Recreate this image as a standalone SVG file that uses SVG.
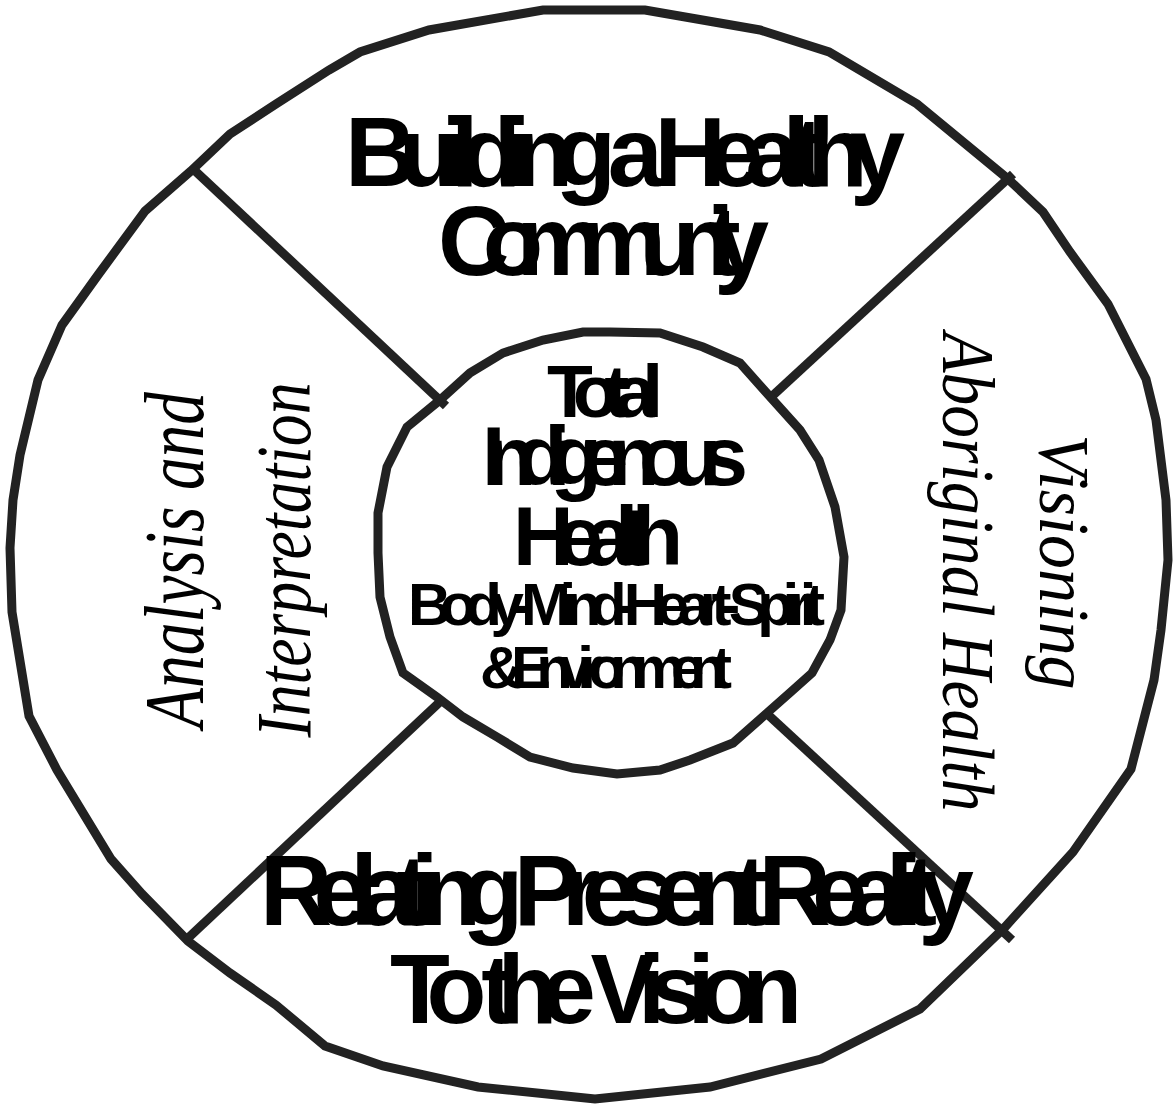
<svg xmlns="http://www.w3.org/2000/svg" width="1176" height="1108" viewBox="0 0 1176 1108">
  <style>
    .ring { fill: none; stroke: #222; stroke-width: 9; stroke-linejoin: miter; }
    .spoke { stroke: #222; stroke-width: 9; stroke-linecap: butt; }
    .big { font-family: "Liberation Sans", Arial, sans-serif; font-weight: bold; fill: #000; }
    .side { font-family: "Liberation Serif", "Times New Roman", serif; font-style: italic; fill: #000; }
  </style>
  <rect x="0" y="0" width="1176" height="1108" fill="#fff"/>

  <g id="outer-ring">
    <polygon class="ring" points="543,10 645,10 760,30 829,52 917,104 1008,179 1043,212 1070,252 1108,304 1146,379 1156,420 1166,500 1168,560 1161,630 1154,680 1131,769 1073,852 1005,927 920,1009 821,1059 710,1087 595,1099 478,1087 383,1066 325,1046 276,1005 230,973 188,941 142,894 111,859 57,770 29,716 12,612 10,548 13,500 20,455 38,380 62,325 98,275 145,211 191,171 230,134 276,104 329,70 360,52 429,30"/>
  </g>

  <g id="connectors">
    <line class="spoke" x1="192" y1="168" x2="446" y2="406"/>
    <line class="spoke" x1="1013" y1="174" x2="769" y2="399"/>
    <line class="spoke" x1="443" y1="699" x2="186" y2="940"/>
    <line class="spoke" x1="764" y1="711" x2="1012" y2="940"/>
  </g>

  <g id="inner-circle">
    <polygon class="ring" fill="#fff" points="610,332 660,333 703,347 740,363 773,400 800,430 819,460 835,507 844,557 841,610 830,640 812,673 793,690 767,713 733,743 690,760 660,770 617,774 573,768 530,757 497,737 463,717 437,697 403,673 390,637 380,597 378,553 378,513 387,467 407,427 440,400 470,373 503,353 543,340 583,332"/>
    <text class="big" x="547" y="417" font-size="75" textLength="116" lengthAdjust="spacing">Total</text>
    <text class="big" x="482" y="485" font-size="84" textLength="266" lengthAdjust="spacing">Indigenous</text>
    <text class="big" x="513" y="565" font-size="84" textLength="170" lengthAdjust="spacing">Health</text>
    <text class="big" x="408" y="625" font-size="60" textLength="417" lengthAdjust="spacing">Body-Mind-Heart-Spirit</text>
    <text class="big" x="480" y="688" font-size="60" textLength="252" lengthAdjust="spacing">&amp; Environment</text>
  </g>

  <g id="top-section">
    <text class="big" x="345" y="186" font-size="99" textLength="560" lengthAdjust="spacing">Building a Healthy</text>
    <text class="big" x="438" y="275" font-size="99" textLength="331" lengthAdjust="spacing">Community</text>
  </g>

  <g id="bottom-section">
    <text class="big" x="260" y="925" font-size="100" textLength="714" lengthAdjust="spacing">Relating Present Reality</text>
    <text class="big" x="390" y="1023" font-size="98" textLength="412" lengthAdjust="spacing">To the Vision</text>
  </g>

  <g id="left-section">
    <text class="side" transform="translate(203,560) rotate(-90)" text-anchor="middle" font-size="84" textLength="336" lengthAdjust="spacingAndGlyphs">Analysis and</text>
    <text class="side" transform="translate(310,560) rotate(-90)" text-anchor="middle" font-size="78" textLength="355" lengthAdjust="spacingAndGlyphs">Interpretation</text>
  </g>

  <g id="right-section">
    <text class="side" transform="translate(1040,562) rotate(90)" text-anchor="middle" font-size="72" textLength="255" lengthAdjust="spacingAndGlyphs">Visioning</text>
    <text class="side" transform="translate(943,572) rotate(90)" text-anchor="middle" font-size="74" textLength="479" lengthAdjust="spacingAndGlyphs">Aboriginal Health</text>
  </g>
</svg>
